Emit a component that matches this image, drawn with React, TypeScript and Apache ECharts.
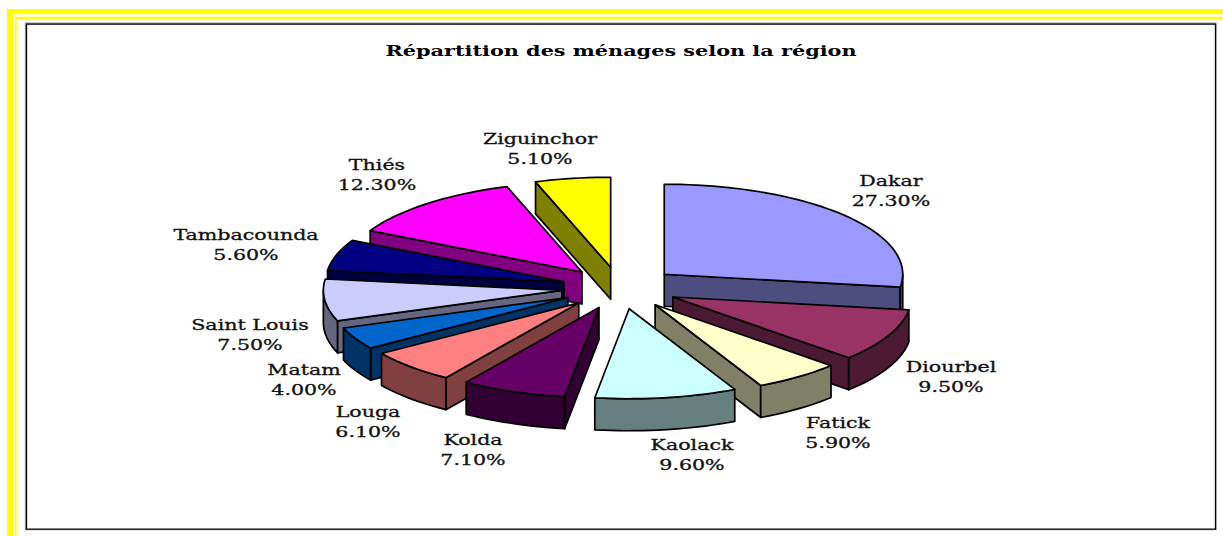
import React, { useEffect, useRef } from "react";
import * as echarts from "echarts";

const titleText = "Répartition des ménages selon la région";
const regions = ["Dakar", "Diourbel", "Fatick", "Kaolack", "Kolda", "Louga", "Matam", "Saint Louis", "Tambacounda", "Thiés", "Ziguinchor"];
const shares = [27.3, 9.5, 5.9, 9.6, 7.1, 6.1, 4.0, 7.5, 5.6, 12.3, 5.1];
const topColors = ["#9999FF", "#993366", "#FFFFCC", "#CCFFFF", "#660066", "#FF8080", "#0066CC", "#CCCCFF", "#000080", "#FF00FF", "#FFFF00"];
const wallColors = ["#4D4D80", "#4D1A33", "#808066", "#668080", "#330033", "#804040", "#003366", "#666680", "#000040", "#800080", "#808000"];
const labelCenters = [[891, 191], [951, 377], [838, 433], [692, 455], [473, 450], [368, 422], [304, 380], [250, 335], [246, 245], [377, 175], [540, 149]];

const CX = 620, CY = 288, RX = 238.5, RY = 90, DEPTH = 32, EX = 58.5, EY = 21;
const LABEL_FONT = '"DejaVu Serif", serif';
const LABEL_SCALE = 1.47;
const TITLE_SCALE = 1.486;

const total = shares.reduce((a, b) => a + b, 0);
const rad = (d: number) => (d * Math.PI) / 180;
const sliceAngles = shares.map((_, i) => {
  const a = (shares.slice(0, i).reduce((s, v) => s + v, 0) / total) * 360;
  return [a, a + (shares[i] / total) * 360];
});
const depthOf = (i: number) => -Math.cos(rad((sliceAngles[i][0] + sliceAngles[i][1]) / 2));
const drawOrder = regions.map((_, i) => i).sort((p, q) => depthOf(p) - depthOf(q));

function renderSlice(_params: any, api: any) {
  const i = api.value(0);
  const [a, b] = sliceAngles[i];
  const mid = rad((a + b) / 2);
  const ax = CX + EX * Math.sin(mid);
  const ay = CY - EY * Math.cos(mid);
  const pt = (deg: number, dz = 0) => [ax + RX * Math.sin(rad(deg)), ay - RY * Math.cos(rad(deg)) + dz];
  const arc = (from: number, to: number, dz = 0) => {
    const n = Math.max(2, Math.ceil((to - from) / 2));
    const out: number[][] = [];
    for (let k = 0; k <= n; k++) out.push(pt(from + ((to - from) * k) / n, dz));
    return out;
  };
  const line = { stroke: "#000", lineWidth: 1.7, lineJoin: "round" };
  const children: any[] = [];
  const wall = (points: number[][]) =>
    children.push({ type: "polygon", shape: { points }, style: { fill: wallColors[i], ...line } });
  const radialWall = (deg: number) => {
    const p = pt(deg);
    wall([[ax, ay], p, [p[0], p[1] + DEPTH], [ax, ay + DEPTH]]);
  };
  if (b < 180) radialWall(b);
  if (a >= 180) radialWall(a);
  const from = Math.max(a, 90), to = Math.min(b, 270);
  if (to > from) wall([...arc(from, to), ...arc(from, to, DEPTH).reverse()]);
  children.push({ type: "polygon", shape: { points: [[ax, ay], ...arc(a, b)] }, style: { fill: topColors[i], ...line } });
  children.push({
    type: "text",
    x: labelCenters[i][0],
    y: labelCenters[i][1],
    scaleX: LABEL_SCALE,
    z2: 100,
    style: {
      text: `${regions[i]}\n${shares[i].toFixed(2)}%`,
      font: `14px ${LABEL_FONT}`,
      lineHeight: 20,
      fill: "#111",
      stroke: "#111",
      lineWidth: 0.3,
      align: "center",
      verticalAlign: "middle",
    },
  });
  return { type: "group", children };
}

export default function App() {
  const ref = useRef<HTMLDivElement>(null);
  useEffect(() => {
    document.body.style.margin = "0";
    document.body.style.overflow = "hidden";
    const chart = echarts.init(ref.current!, null, { renderer: "svg" });
    chart.setOption({
      animation: false,
      backgroundColor: "#fff",
      graphic: [
        { type: "rect", shape: { x: 7, y: 9, width: 1216, height: 5.3 }, style: { fill: "#FFFF00" } },
        { type: "rect", shape: { x: 7, y: 9, width: 6.3, height: 527 }, style: { fill: "#FFFF00" } },
        { type: "rect", shape: { x: 15, y: 16.7, width: 1208, height: 2.3 }, style: { fill: "#FFFF00" } },
        { type: "rect", shape: { x: 15, y: 16.7, width: 1.7, height: 520 }, style: { fill: "#FFFF00" } },
        { type: "rect", shape: { x: 26, y: 23.7, width: 1189.5, height: 505.5 }, style: { fill: "#fff", stroke: "#999", lineWidth: 2.2 } },
        { type: "rect", shape: { x: 26.5, y: 24.2, width: 1189, height: 505 }, style: { fill: "#fff", stroke: "#000", lineWidth: 1.3 } },
        {
          type: "text",
          x: 621,
          y: 51,
          scaleX: TITLE_SCALE,
          style: {
            text: titleText,
            font: `bold 14px ${LABEL_FONT}`,
            fill: "#000",
            align: "center",
            verticalAlign: "middle",
          },
        },
      ],
      series: [
        {
          type: "custom",
          coordinateSystem: "none",
          silent: true,
          z: 10,
          data: drawOrder.map((i) => [i]),
          renderItem: renderSlice,
        },
      ],
    });
    return () => chart.dispose();
  }, []);
  return <div ref={ref} style={{ width: 1223, height: 536 }} />;
}
